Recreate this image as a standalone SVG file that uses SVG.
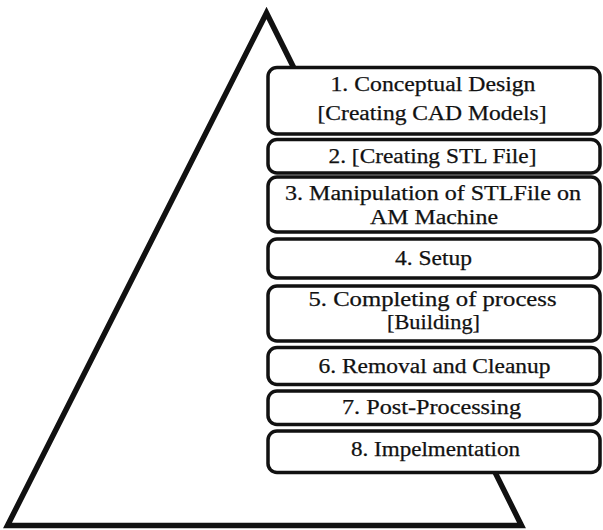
<svg xmlns="http://www.w3.org/2000/svg" width="603" height="530" viewBox="0 0 603 530">
<style>
.box{fill:#fff;stroke:#111;stroke-width:3.5}
.t{font-family:"Liberation Serif","Times New Roman",serif;font-size:20.5px;fill:#111;stroke:#111;stroke-width:0.25;text-anchor:middle}
</style>
<rect width="603" height="530" fill="#fff"/>
<polygon id="pyramid" points="266.5,13 7.5,525.5 521.5,525.5" fill="#fff" stroke="#111" stroke-width="5.5" stroke-linejoin="miter"/>
<rect x="268" y="68" width="332" height="404" fill="#fff"/>
<g id="step1"><rect class="box" x="268" y="67.5" width="332" height="66.5" rx="9"/>
<text class="t" x="433" y="91" textLength="205" lengthAdjust="spacingAndGlyphs">1. Conceptual Design</text>
<text class="t" x="432" y="119.5" textLength="229" lengthAdjust="spacingAndGlyphs">[Creating CAD Models]</text></g>
<g id="step2"><rect class="box" x="268" y="139.5" width="332" height="33.5" rx="9"/>
<text class="t" x="432.5" y="163" textLength="208" lengthAdjust="spacingAndGlyphs">2. [Creating STL File]</text></g>
<g id="step3"><rect class="box" x="268" y="177" width="332" height="55" rx="9"/>
<text class="t" x="433" y="200" textLength="296" lengthAdjust="spacingAndGlyphs">3. Manipulation of STLFile on</text>
<text class="t" x="434" y="224" textLength="128" lengthAdjust="spacingAndGlyphs">AM Machine</text></g>
<g id="step4"><rect class="box" x="268" y="239" width="332" height="39" rx="9"/>
<text class="t" x="433.5" y="265" textLength="77" lengthAdjust="spacingAndGlyphs">4. Setup</text></g>
<g id="step5"><rect class="box" x="268" y="286" width="332" height="55" rx="9"/>
<text class="t" x="432.5" y="306" textLength="248" lengthAdjust="spacingAndGlyphs">5. Completing of process</text>
<text class="t" x="433.5" y="329" textLength="93" lengthAdjust="spacingAndGlyphs">[Building]</text></g>
<g id="step6"><rect class="box" x="268" y="347.5" width="332" height="37" rx="9"/>
<text class="t" x="434.5" y="373" textLength="232" lengthAdjust="spacingAndGlyphs">6. Removal and Cleanup</text></g>
<g id="step7"><rect class="box" x="268" y="391" width="332" height="33.5" rx="9"/>
<text class="t" x="431.5" y="413.5" textLength="179" lengthAdjust="spacingAndGlyphs">7. Post-Processing</text></g>
<g id="step8"><rect class="box" x="268" y="431" width="332" height="41.5" rx="9"/>
<text class="t" x="435.5" y="455.5" textLength="169" lengthAdjust="spacingAndGlyphs">8. Impelmentation</text></g>
<g id="connectors"></g>
</svg>
